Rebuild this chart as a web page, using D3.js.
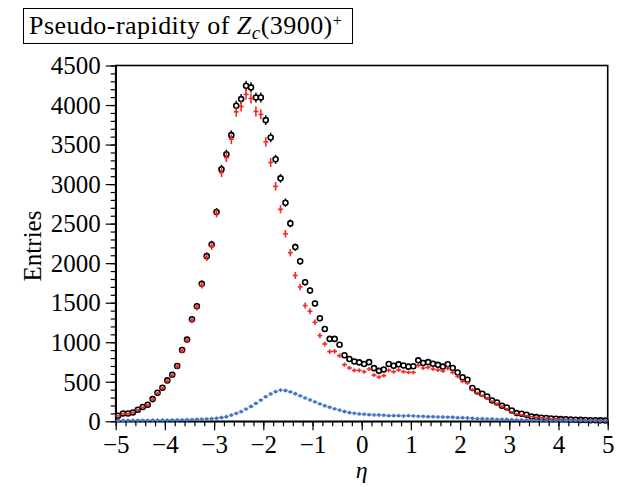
<!DOCTYPE html>
<meta charset="utf-8">
<style>
body { margin: 0; background: #fff; }
svg { display: block; }
text { font-family: "Liberation Serif", "Times New Roman", serif; fill: #000; }
</style>
<svg width="624" height="487"></svg>
<script src="https://cdn.jsdelivr.net/npm/d3@7"></script>
<script>
"use strict";

// histogram: 100 bins of 0.1 from -5 to 5
var binLow = -5, binWidth = 0.1;

// black open circles
var blackCounts = [
  70, 99, 99, 112, 146, 180, 209, 281, 361, 425, 517, 589, 700, 902, 1033, 1290, 1455, 1740,
  2089, 2237, 2647, 3188, 3378, 3619, 3990, 4075, 4243, 4223, 4096, 4096, 3809, 3590, 3314, 3073, 2765, 2503, 2203,
  2025, 1759, 1654, 1489, 1303, 1168, 1042, 1042, 968, 835, 788, 756, 745, 725, 748, 672, 638, 655, 725, 703, 720, 706, 691, 696, 771, 738, 748, 727, 714, 691, 722,
  674, 618, 555, 526, 421, 378, 349, 314, 264, 238, 196, 175, 137, 104, 95, 82, 61, 53, 44, 41, 36, 32, 28, 25, 22, 20, 18, 16, 14, 13, 12, 11
];
// red crosses
var redCounts = [
  68, 97, 97, 110, 143, 176, 205, 276, 355, 418, 508, 580, 690, 890, 1020, 1275, 1440, 1720,
  2075, 2215, 2630, 3146, 3336, 3568, 3914, 3982, 4134, 4083, 3919, 3881, 3534, 3273, 2972, 2681, 2372, 2132, 1844,
  1700, 1464, 1392, 1252, 1084, 978, 881, 885, 830, 716, 674, 644, 644, 627, 661, 585, 560, 577, 644, 627, 649, 627, 618, 618, 707, 674, 682, 661, 649, 636, 669,
  618, 568, 504, 484, 399, 357, 323, 294, 251, 222, 188, 158, 120, 91, 82, 70, 58, 50, 42, 38, 33, 29, 26, 23, 21, 19, 17, 15, 13, 12, 11, 10
];
// blue stars
var blueCounts = [
  10, 10, 11, 11, 12, 12, 12, 13, 13, 14, 15, 16, 17, 18, 20, 22, 24, 27, 30, 34,
  38, 48, 58, 78, 100, 122, 155, 187, 226, 268, 310, 345, 375, 395, 390, 372, 348, 322, 295, 270, 245, 220, 196, 177, 157, 142, 124,
  109, 101, 93, 89, 84, 80, 80, 76, 71, 71, 71, 67, 71, 67, 63, 63, 58, 58, 54, 54, 51, 51, 46, 46, 42, 38, 33, 33, 29, 29,
  25, 25, 23, 20, 18, 17, 16, 15, 14, 13, 12, 12, 11, 11, 10, 10, 9, 9, 8, 8, 8, 7, 7
];

var xTicks = [-5, -4, -3, -2, -1, 0, 1, 2, 3, 4, 5];
var yTicks = [0, 500, 1000, 1500, 2000, 2500, 3000, 3500, 4000, 4500];

var svg = d3.select("svg");
var plotL = 115.7, plotR = 607.7, plotT = 65.5, plotB = 421.3;

var x = d3.scaleLinear().domain([-5, 5]).range([plotL, plotR]);
var y = d3.scaleLinear().domain([0, 4500]).range([plotB, plotT]);

function center(i) { return binLow + binWidth * (i + 0.5); }

//frame
svg.append("rect")
  .attr("x", plotL).attr("y", plotT)
  .attr("width", plotR - plotL).attr("height", plotB - plotT)
  .attr("fill", "none").attr("stroke", "#000").attr("stroke-width", 1.6);

// y axis with minor ticks
var gy = svg.append("g").attr("transform", "translate(" + plotL + ",0)");
gy.call(d3.axisLeft(y).tickValues(d3.range(0, 4501, 100)).tickSize(5).tickSizeOuter(0).tickFormat(""));
gy.selectAll(".tick line").attr("stroke-width", 1.2);
gy.select(".domain").attr("stroke-width", 1.6);
var gy2 = svg.append("g").attr("transform", "translate(" + plotL + ",0)");
gy2.call(d3.axisLeft(y).tickValues(yTicks).tickSize(10).tickSizeOuter(0).tickPadding(5)
  .tickFormat(d3.format("d")));
gy2.select(".domain").remove();
gy2.selectAll(".tick line").attr("stroke-width", 1.2);
gy2.selectAll(".tick text").attr("font-size", 25).attr("dy", "0.33em")
  .style("font-family", "'Liberation Serif', serif");

// x axis
var gx = svg.append("g").attr("transform", "translate(0," + plotB + ")");
gx.call(d3.axisBottom(x).tickValues(d3.range(-50, 51, 2).map(function(d) { return d / 10; }))
  .tickSize(5).tickSizeOuter(0).tickFormat(""));
gx.selectAll(".tick line").attr("stroke-width", 1.2);
gx.select(".domain").attr("stroke-width", 1.6);
var gx2 = svg.append("g").attr("transform", "translate(0," + plotB + ")");
gx2.call(d3.axisBottom(x).tickValues(xTicks).tickSize(9).tickSizeOuter(0).tickPadding(5)
  .tickFormat(function(d) { return d < 0 ? "\u2212" + (-d) : d; }));
gx2.select(".domain").remove();
gx2.selectAll(".tick line").attr("stroke-width", 1.2);
gx2.selectAll(".tick text").attr("font-size", 25)
  .style("font-family", "'Liberation Serif', serif");

// black points
var black = svg.append("g");
blackCounts.forEach(function(v, i) {
  var cx = x(center(i)), e = Math.sqrt(v);
  black.append("line")
    .attr("x1", cx).attr("x2", cx)
    .attr("y1", y(v + e)).attr("y2", y(v - e))
    .attr("stroke", "#000").attr("stroke-width", 1.4);
  black.append("circle")
    .attr("cx", cx).attr("cy", y(v)).attr("r", 2.5)
    .attr("fill", "#fff").attr("stroke", "#000").attr("stroke-width", 1.6);
});

// red points
var red = svg.append("g");
redCounts.forEach(function(v, i) {
  var c = center(i), e = Math.sqrt(v);
  red.append("line")
    .attr("x1", x(c)).attr("x2", x(c))
    .attr("y1", y(v + e)).attr("y2", y(v - e))
    .attr("stroke", "#ee2a2a").attr("stroke-width", 1.6);
  red.append("line")
    .attr("x1", x(c - binWidth / 2)).attr("x2", x(c + binWidth / 2))
    .attr("y1", y(v)).attr("y2", y(v))
    .attr("stroke", "#ee2a2a").attr("stroke-width", 1.6);
});

// blue points
var blue = svg.append("g");
var star = d3.symbol().type(d3.symbolAsterisk || d3.symbolCross).size(10);
blueCounts.forEach(function(v, i) {
  var c = center(i);
  blue.append("line")
    .attr("x1", x(c - binWidth / 2)).attr("x2", x(c + binWidth / 2))
    .attr("y1", y(v)).attr("y2", y(v))
    .attr("stroke", "#5a84cc").attr("stroke-width", 1);
  blue.append("path")
    .attr("d", star)
    .attr("transform", "translate(" + x(c) + "," + y(v) + ")")
    .attr("fill", "none").attr("stroke", "#4272c4").attr("stroke-width", 1.1);
});

// axis titles
svg.append("text")
  .attr("transform", "translate(41,246) rotate(-90)")
  .attr("text-anchor", "middle").attr("font-size", 25)
  .text("Entries");

svg.append("text")
  .attr("x", x(0)).attr("y", 478)
  .attr("text-anchor", "middle").attr("font-size", 24).attr("font-style", "italic")
  .text("\u03b7");

// title box
svg.append("rect")
  .attr("x", 23.5).attr("y", 8.5).attr("width", 329).attr("height", 35)
  .attr("fill", "#fff").attr("stroke", "#000").attr("stroke-width", 1);

var title = svg.append("text").attr("x", 29).attr("y", 34).attr("font-size", 26)
  .attr("letter-spacing", 0.45);
title.append("tspan").text("Pseudo-rapidity of ");
title.append("tspan").attr("font-style", "italic").text("Z");
title.append("tspan").attr("font-style", "italic").attr("font-size", 19).attr("dy", 5).text("c");
title.append("tspan").attr("dy", -5).text("(3900)");
title.append("tspan").attr("font-size", 16).attr("dy", -8).text("+");
</script>
